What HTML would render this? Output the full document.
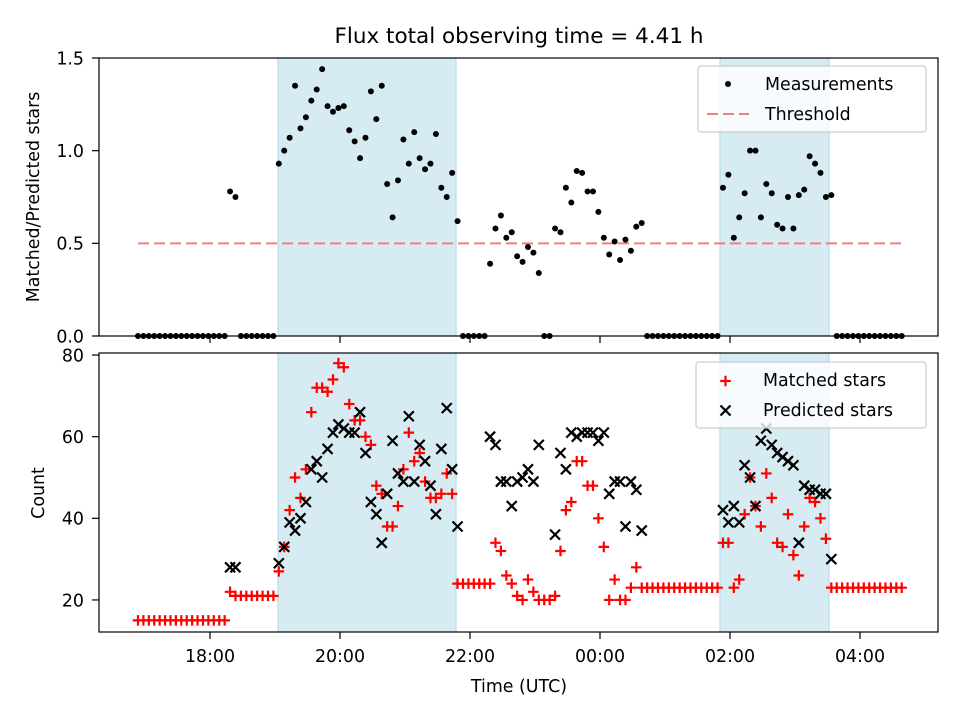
<!DOCTYPE html>
<html><head><meta charset="utf-8"><style>
html,body{margin:0;padding:0;background:#fff}
svg{display:block;font-family:"DejaVu Sans","Liberation Sans",sans-serif}
</style></head><body>
<svg id="chart" width="960" height="720" xmlns="http://www.w3.org/2000/svg">
<rect width="960" height="720" fill="#fff"/>
<text x="519" y="43" font-size="21.5" text-anchor="middle">Flux total observing time = 4.41 h</text>
<g id="top"></g>
<g id="bot"></g>
<text transform="translate(39,197) rotate(-90)" font-size="17.4" text-anchor="middle">Matched/Predicted stars</text>
<text transform="translate(44,493) rotate(-90)" font-size="17.4" text-anchor="middle">Count</text>
<text x="519" y="692" font-size="17.4" text-anchor="middle">Time (UTC)</text>
</svg>
<script>
// time axis: start hour offset from 18:00, step 5 minutes
const startHour = -1.108;
const stepHour = 5/60;
const shadedSpans = [[1.046, 3.785], [7.846, 9.523]];
const xTickLabels = ["18:00","20:00","22:00","00:00","02:00","04:00"];
const xTickHours = [0,2,4,6,8,10];
const threshold = 0.5;
const ratioTicks = [0.0,0.5,1.0,1.5];
const countTicks = [20,40,60,80];
const ratio = [0,0,0,0,0,0,0,0,0,0,0,0,0,0,0,0,0,
 0.78,0.75,
 0,0,0,0,0,0,0,
 0.93,1.00,1.07,1.35,1.12,1.18,1.27,1.33,1.44,1.24,1.21,1.23,1.24,1.11,1.05,0.96,1.07,1.32,1.17,1.35,0.82,0.64,0.84,1.06,0.93,1.10,0.96,0.90,0.93,1.09,0.80,0.75,0.88,0.62,
 0,0,0,0,0,
 0.39,0.58,0.65,0.53,0.56,0.43,0.40,0.48,0.45,0.34,
 0,0,
 0.58,0.56,0.80,0.72,0.89,0.88,0.78,0.78,0.67,0.53,0.44,0.51,0.41,0.52,0.46,0.59,0.61,
 0,0,0,0,0,0,0,0,0,0,0,0,0,0,
 0.80,0.87,0.53,0.64,0.77,1.00,1.00,0.64,0.82,0.77,0.60,0.58,0.75,0.58,0.76,0.79,0.97,0.93,0.88,0.75,0.76,
 0,0,0,0,0,0,0,0,0,0,0,0,0];
const matched = [15,15,15,15,15,15,15,15,15,15,15,15,15,15,15,15,15,
 22,21,
 21,21,21,21,21,21,21,
 27,33,42,50,45,52,66,72,72,71,74,78,77,68,64,64,60,58,48,46,38,38,43,52,61,54,56,49,45,45,46,51,46,24,
 24,24,24,24,24,
 24,34,32,26,24,21,20,25,22,20,
 20,20,
 21,32,42,44,54,54,48,48,40,33,20,25,20,20,23,28,23,
 23,23,23,23,23,23,23,23,23,23,23,23,23,23,
 34,34,23,25,41,50,43,38,51,45,34,33,41,31,26,38,45,44,40,35,23,
 23,23,23,23,23,23,23,23,23,23,23,23,23];
const N = null;
const predicted = [N,N,N,N,N,N,N,N,N,N,N,N,N,N,N,N,N,
 28,28,
 N,N,N,N,N,N,N,
 29,33,39,37,40,44,52,54,50,57,61,63,62,61,61,66,56,44,41,34,46,59,51,49,65,49,58,54,48,41,57,67,52,38,
 N,N,N,N,N,
 60,58,49,49,43,49,50,52,49,58,
 N,N,
 36,56,52,61,60,61,61,61,59,61,46,49,49,38,49,47,37,
 N,N,N,N,N,N,N,N,N,N,N,N,N,N,
 42,39,43,39,53,50,43,59,62,58,56,55,54,53,34,48,47,47,46,46,30,
 N,N,N,N,N,N,N,N,N,N,N,N,N];

const NS = "http://www.w3.org/2000/svg";
const L = 99, R = 938;
const topY0 = 58, topY1 = 336, botY0 = 353, botY1 = 632;
const FS = 17.4;
const xs = h => 210 + 65*h;
const yTop = v => topY1 - (v/1.5)*(topY1-topY0);
const cMin = 12.15, cMax = 80.5;
const yBot = v => botY1 - (v-cMin)/(cMax-cMin)*(botY1-botY0);
const tOf = i => startHour + i*stepHour;
function mk(tag, attrs, parent){
  const e = document.createElementNS(NS, tag);
  for (const k in attrs) e.setAttribute(k, attrs[k]);
  parent.appendChild(e);
  return e;
}
const gTop = document.getElementById('top');
const gBot = document.getElementById('bot');

function panel(g, y0, y1, name){
  shadedSpans.forEach(s=>{
    const r = mk('rect',{x:xs(s[0]),y:y0,width:xs(s[1])-xs(s[0]),height:y1-y0,fill:'#add8e6','fill-opacity':0.5,stroke:'#add8e6','stroke-width':1},g);
    
    
  });
  xTickHours.forEach((h,k)=>{
    const t = mk('line',{x1:xs(h),x2:xs(h),y1:y1,y2:y1+7,stroke:'#000','stroke-width':1.2},g);
    
    
    if (name==='bottom'){
      const tx = mk('text',{x:xs(h),y:y1+30,'font-size':FS,'text-anchor':'middle'},g);
      tx.textContent = xTickLabels[k];
      
      
    }
  });
}
panel(gTop, topY0, topY1, 'top');
panel(gBot, botY0, botY1, 'bottom');

const th = mk('line',{x1:xs(tOf(0)),x2:xs(tOf(ratio.length-1)),y1:yTop(threshold),y2:yTop(threshold),stroke:'#f08080','stroke-width':2,'stroke-dasharray':'11,5'},gTop);



ratio.forEach((v,i)=>{
  if (v===null) return;
  const c = mk('circle',{cx:xs(tOf(i)),cy:yTop(v),r:3,fill:'#000'},gTop);
  
  
});
matched.forEach((v,i)=>{
  if (v===null) return;
  const x = xs(tOf(i)), y = yBot(v), d=5.3;
  const p = mk('path',{d:`M${x-d},${y}H${x+d}M${x},${y-d}V${y+d}`,stroke:'#f00','stroke-width':2.2,fill:'none'},gBot);
  
  
});
predicted.forEach((v,i)=>{
  if (v===null) return;
  const x = xs(tOf(i)), y = yBot(v), d=5;
  const p = mk('path',{d:`M${x-d},${y-d}L${x+d},${y+d}M${x-d},${y+d}L${x+d},${y-d}`,stroke:'#000','stroke-width':2.2,fill:'none'},gBot);
  
  
});

function yAxis(g, ticks, yf, fmt, name){
  ticks.forEach(v=>{
    const t = mk('line',{x1:L-7,x2:L,y1:yf(v),y2:yf(v),stroke:'#000','stroke-width':1.2},g);
    
    
    const tx = mk('text',{x:L-15,y:yf(v)+6.3,'font-size':FS,'text-anchor':'end'},g);
    tx.textContent = fmt(v);
    
    
  });
}
yAxis(gTop, ratioTicks, yTop, v=>v.toFixed(1), 'top');
yAxis(gBot, countTicks, yBot, v=>String(v), 'bottom');

[[gTop,topY0,topY1,'top'],[gBot,botY0,botY1,'bottom']].forEach(a=>{
  const f = mk('rect',{x:L,y:a[1],width:R-L,height:a[2]-a[1],fill:'none',stroke:'#000','stroke-width':1.2},a[0]);
  
  
});

function legend(g, x, y, w, h, name){
  const lg = mk('g',{},g);
  
  
  mk('rect',{x:x,y:y,width:w,height:h,rx:3,fill:'#fff','fill-opacity':0.8,stroke:'#ccc','stroke-width':1.2},lg);
  return lg;
}
const lt = legend(gTop, 698, 66, 228, 66, 'top-legend');
mk('circle',{cx:728,cy:84,r:3,fill:'#000'},lt);
let t1 = mk('text',{x:765,y:90,'font-size':FS},lt); t1.textContent='Measurements';
mk('line',{x1:707,x2:749,y1:114,y2:114,stroke:'#f08080','stroke-width':2,'stroke-dasharray':'11,5'},lt);
let t2 = mk('text',{x:765,y:120,'font-size':FS},lt); t2.textContent='Threshold';

const lb = legend(gBot, 696, 362, 230, 66, 'bottom-legend');
mk('path',{d:'M720.2,381H730.8M725.5,375.7V386.3',stroke:'#f00','stroke-width':2.2},lb);
let t3 = mk('text',{x:763,y:386,'font-size':FS},lb); t3.textContent='Matched stars';
mk('path',{d:'M720.5,405.5L730.5,415.5M720.5,415.5L730.5,405.5',stroke:'#000','stroke-width':2.2},lb);
let t4 = mk('text',{x:763,y:416,'font-size':FS},lb); t4.textContent='Predicted stars';
</script>
</body></html>
